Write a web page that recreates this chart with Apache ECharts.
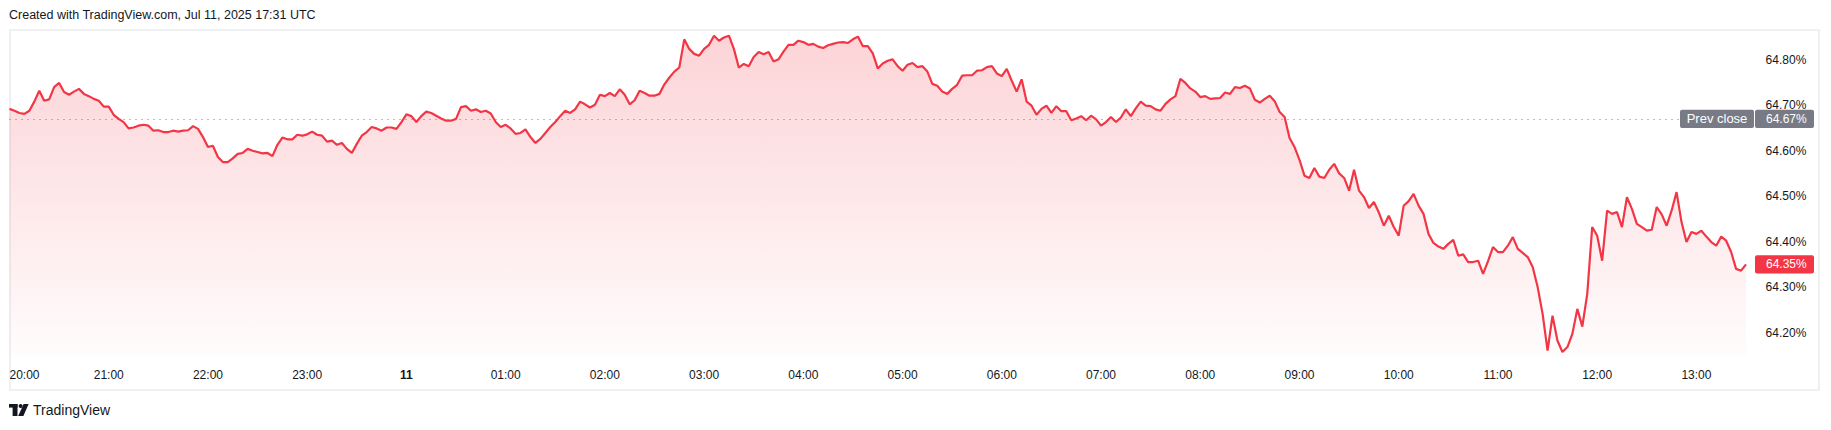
<!DOCTYPE html>
<html>
<head>
<meta charset="utf-8">
<script src="https://cdn.jsdelivr.net/npm/echarts@6/dist/echarts.min.js"></script>
<style>
html,body{margin:0;padding:0;background:#ffffff;}
#chart{width:1831px;height:430px;}
</style>
</head>
<body>
<div id="chart"></div>
<script>
// ---- data ----
const START_LABEL = '20:00';          // first sample time
const STEP_MIN = 3;                   // minutes between samples
const values = [
64.692,64.688,64.683,64.681,64.688,64.708,64.732,64.710,64.713,64.740,
64.749,64.729,64.723,64.730,64.736,64.725,64.720,64.714,64.710,64.697,
64.697,64.679,64.670,64.663,64.649,64.651,64.655,64.657,64.655,64.644,
64.645,64.641,64.641,64.644,64.642,64.644,64.645,64.654,64.648,64.630,
64.608,64.611,64.586,64.575,64.575,64.583,64.593,64.595,64.604,64.600,
64.597,64.594,64.595,64.588,64.613,64.629,64.625,64.625,64.635,64.633,
64.636,64.642,64.635,64.633,64.620,64.622,64.613,64.617,64.604,64.595,
64.615,64.633,64.641,64.652,64.649,64.644,64.651,64.651,64.648,64.663,
64.680,64.676,64.663,64.676,64.686,64.683,64.677,64.671,64.666,64.666,
64.670,64.696,64.698,64.688,64.691,64.685,64.688,64.682,64.663,64.652,
64.657,64.649,64.637,64.639,64.647,64.630,64.617,64.626,64.639,64.652,
64.663,64.676,64.688,64.683,64.691,64.708,64.702,64.695,64.701,64.723,
64.720,64.727,64.720,64.735,64.723,64.702,64.711,64.732,64.727,64.721,
64.721,64.725,64.746,64.761,64.774,64.783,64.845,64.824,64.813,64.809,
64.824,64.833,64.853,64.842,64.849,64.853,64.824,64.783,64.791,64.786,
64.806,64.817,64.812,64.817,64.796,64.801,64.818,64.833,64.833,64.842,
64.839,64.833,64.835,64.829,64.826,64.832,64.835,64.838,64.839,64.837,
64.845,64.851,64.830,64.830,64.814,64.781,64.792,64.798,64.801,64.786,
64.776,64.789,64.793,64.784,64.786,64.774,64.747,64.743,64.730,64.725,
64.736,64.745,64.765,64.766,64.766,64.776,64.777,64.784,64.786,64.770,
64.764,64.780,64.754,64.730,64.757,64.708,64.699,64.679,64.692,64.699,
64.683,64.698,64.687,64.687,64.667,64.671,64.676,64.667,64.677,64.669,
64.655,64.663,64.674,64.663,64.673,64.691,64.676,64.693,64.708,64.699,
64.698,64.691,64.688,64.703,64.713,64.720,64.758,64.749,64.737,64.730,
64.718,64.720,64.714,64.715,64.716,64.728,64.725,64.740,64.738,64.743,
64.737,64.712,64.706,64.714,64.721,64.709,64.685,64.674,64.628,64.608,
64.580,64.545,64.540,64.562,64.543,64.540,64.558,64.571,64.550,64.540,
64.512,64.558,64.512,64.498,64.474,64.487,64.464,64.435,64.457,64.432,
64.413,64.479,64.489,64.505,64.479,64.461,64.417,64.397,64.389,64.384,
64.395,64.404,64.369,64.372,64.355,64.355,64.358,64.329,64.357,64.388,
64.377,64.377,64.391,64.410,64.384,64.375,64.366,64.344,64.300,64.241,
64.160,64.237,64.182,64.157,64.168,64.197,64.252,64.213,64.285,64.432,
64.413,64.358,64.468,64.461,64.465,64.432,64.498,64.472,64.439,64.432,
64.424,64.426,64.476,64.460,64.435,64.468,64.509,64.443,64.399,64.421,
64.417,64.424,64.411,64.399,64.391,64.411,64.402,64.377,64.340,64.336,
64.350
];
const hourLabels = ['20:00','21:00','22:00','23:00','11','01:00','02:00','03:00','04:00',
  '05:00','06:00','07:00','08:00','09:00','10:00','11:00','12:00','13:00'];
const yTickValues = [64.20,64.30,64.40,64.50,64.60,64.70,64.80];
const yTickLabels = ['64.20%','64.30%','64.40%','64.50%','64.60%','64.70%','64.80%'];
const PREV_CLOSE = 64.67;
const PREV_CLOSE_TEXT = 'Prev close';
const TITLE_TEXT = 'Created with TradingView.com, Jul 11, 2025 17:31 UTC';
const FOOTER_TEXT = 'TradingView';

// ---- styling ----
const RED = '#F23645';
const GREY = '#787b86';
const INK = '#131722';
const FONT = 'Liberation Sans, Arial, sans-serif';
const X_MAX = 1057;

const seriesData = values.map((v, i) => [i * STEP_MIN, v]);
const lastValue = values[values.length - 1];

const chart = echarts.init(document.getElementById('chart'), null, {renderer: 'svg'});

chart.setOption({
  animation: false,
  backgroundColor: '#ffffff',
  grid: {left: 9.5, right: 73.4, top: 14.34, bottom: 52.04, containLabel: false},
  xAxis: {
    type: 'value', min: 0, max: X_MAX, interval: 60,
    axisLine: {show: false}, axisTick: {show: false}, splitLine: {show: false},
    axisLabel: {
      color: INK, fontSize: 12, fontFamily: FONT,
      margin: -3, verticalAlign: 'middle',
      alignMinLabel: 'left',
      formatter: function (v) {
        if (v % 60 !== 0) return '';
        const s = hourLabels[v / 60];
        if (s === undefined) return '';
        return s === '11' ? '{b|' + s + '}' : s;
      },
      rich: {b: {fontWeight: 'bold', fontSize: 12, fontFamily: FONT, color: INK}}
    }
  },
  yAxis: {
    type: 'value', position: 'right', min: 64.1, max: 64.9, interval: 0.1,
    axisLine: {show: false}, axisTick: {show: false}, splitLine: {show: false},
    axisLabel: {
      color: INK, fontSize: 12, fontFamily: FONT, margin: 8, align: 'left',
      formatter: function (v) {
        const i = yTickValues.findIndex(t => Math.abs(t - v) < 1e-6);
        return i >= 0 ? yTickLabels[i] : '';
      }
    }
  },
  series: [{
    type: 'line',
    data: seriesData,
    showSymbol: false,
    symbol: 'none',
    z: 5,
    lineStyle: {color: RED, width: 2.2},
    areaStyle: {
      origin: 64.15,
      color: new echarts.graphic.LinearGradient(0, 31, 0, 357, [
        {offset: 0, color: 'rgba(242,54,69,0.31)'},
        {offset: 0.5, color: 'rgba(242,54,69,0.17)'},
        {offset: 1, color: 'rgba(242,54,69,0.02)'}
      ], true)
    },
    markLine: {
      silent: true, symbol: 'none',
      label: {show: false},
      lineStyle: {color: GREY, width: 1, type: [1, 5]},
      data: [{yAxis: PREV_CLOSE}]
    }
  }]
});

// label boxes placed through the axis scales
const xEnd = chart.convertToPixel({xAxisIndex: 0}, X_MAX);
const yPrev = chart.convertToPixel({yAxisIndex: 0}, PREV_CLOSE);
const yLast = chart.convertToPixel({yAxisIndex: 0}, lastValue);
const boxH = 18.4;

chart.setOption({
  graphic: [
    {type: 'rect', z: 0, silent: true,
     shape: {x: 10, y: 30, width: 1809, height: 360},
     style: {fill: 'none', stroke: '#eef0f3', lineWidth: 2}},
    {type: 'text', z: 100, silent: true, left: 9, top: 8,
     style: {text: TITLE_TEXT, fill: INK, font: '12.5px ' + FONT}},
    // prev close label
    {type: 'rect', z: 100, silent: true,
     shape: {x: xEnd - 77.6, y: yPrev - boxH / 2, width: 74, height: boxH, r: 2},
     style: {fill: GREY}},
    {type: 'text', z: 101, silent: true, x: xEnd - 40.6, y: yPrev,
     style: {text: PREV_CLOSE_TEXT, fill: '#ffffff', font: '13px ' + FONT, align: 'center', verticalAlign: 'middle'}},
    {type: 'rect', z: 100, silent: true,
     shape: {x: xEnd - 2.6, y: yPrev - boxH / 2, width: 59, height: boxH, r: 2},
     style: {fill: GREY}},
    {type: 'text', z: 101, silent: true, x: xEnd + 8.4, y: yPrev,
     style: {text: PREV_CLOSE.toFixed(2) + '%', fill: '#ffffff', font: '12px ' + FONT, align: 'left', verticalAlign: 'middle'}},
    // last value label
    {type: 'rect', z: 100, silent: true,
     shape: {x: xEnd - 2.6, y: yLast - boxH / 2, width: 59, height: boxH, r: 2},
     style: {fill: RED}},
    {type: 'text', z: 101, silent: true, x: xEnd + 8.4, y: yLast,
     style: {text: lastValue.toFixed(2) + '%', fill: '#ffffff', font: '12px ' + FONT, align: 'left', verticalAlign: 'middle'}},
    // footer logo
    {type: 'group', z: 100, silent: true, children: [
      {type: 'rect', shape: {x: 9, y: 404, width: 8.5, height: 3.6}, style: {fill: INK}},
      {type: 'rect', shape: {x: 12.6, y: 404, width: 4.9, height: 12}, style: {fill: INK}},
      {type: 'circle', shape: {cx: 20.6, cy: 406, r: 2}, style: {fill: INK}},
      {type: 'polygon', shape: {points: [[23.6, 404], [28.6, 404], [23.4, 416], [18.2, 416]]}, style: {fill: INK}}
    ]},
    {type: 'text', z: 100, silent: true, x: 33, y: 410,
     style: {text: FOOTER_TEXT, fill: INK, font: '14px ' + FONT, verticalAlign: 'middle'}}
  ]
});
</script>
</body>
</html>
